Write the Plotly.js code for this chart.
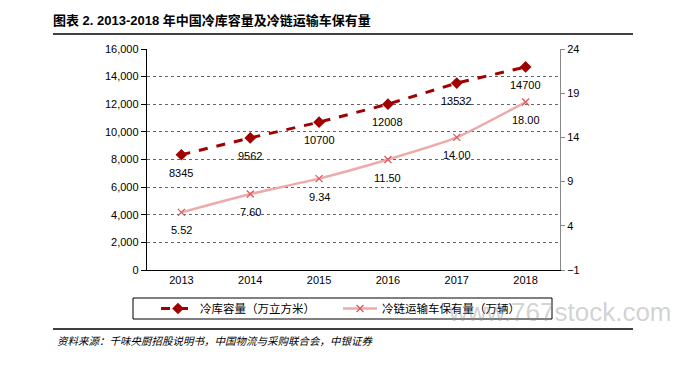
<!DOCTYPE html>
<html><head><meta charset="utf-8">
<script src="https://cdn.plot.ly/plotly-3.0.1.min.js"></script>
<style>html,body{margin:0;padding:0;background:#fff}</style>
</head><body><div id="chart" style="width:677px;height:365px"></div>
<script>
const years = ['2013','2014','2015','2016','2017','2018'];
const coldStorage = [8345, 9562, 10700, 12008, 13532, 14700];
const coldStorageLabels = ['8345','9562','10700','12008','13532','14700'];
const vehicles = [5.52, 7.60, 9.34, 11.50, 14.00, 18.00];
const vehicleLabels = ['5.52','7.60','9.34','11.50','14.00','18.00'];
const seriesNames = ['冷库容量（万立方米）', '冷链运输车保有量（万辆）'];
const titleText = '图表 2. 2013-2018 年中国冷库容量及冷链运输车保有量';
const sourceText = '资料来源：千味央厨招股说明书，中国物流与采购联合会，中银证券';
const watermarkText = 'www.767stock.com';

const F = 'Liberation Sans, Arial, Noto Sans CJK SC, sans-serif';
const L = 147, R = 560, T = 49, B = 270;
const W = R - L, H = B - T;
const px = x => (x - L) / W;
const py = y => (B - y) / H;

const traces = [
  {x: years, y: coldStorage, name: seriesNames[0], type: 'scatter', mode: 'lines+markers',
   line: {color: '#a00000', width: 3, dash: 'dash'},
   marker: {symbol: 'diamond', size: 9, color: '#a00000'}, cliponaxis: false},
  {x: years, y: vehicles, name: seriesNames[1], type: 'scatter', mode: 'lines+markers', yaxis: 'y2',
   line: {color: '#eeaaaa', width: 2.5, shape: 'spline', smoothing: 0.5},
   marker: {symbol: 'x-thin-open', size: 7, color: '#e05a5a', line: {width: 1.3, color: '#e05a5a'}}, cliponaxis: false}
];

const labelAnns = [];
years.forEach((yr, i) => {
  labelAnns.push({x: i, y: coldStorage[i], xref: 'x', yref: 'y', text: coldStorageLabels[i],
    showarrow: false, yshift: -18, font: {family: F, size: 11, color: '#000'}});
  labelAnns.push({x: i, y: vehicles[i], xref: 'x', yref: 'y2', text: vehicleLabels[i],
    showarrow: false, yshift: -18, font: {family: F, size: 11, color: '#000'}});
});

const layout = {
  width: 677, height: 365,
  margin: {l: L, r: 677 - R, t: T, b: 365 - B, pad: 0},
  paper_bgcolor: '#fff', plot_bgcolor: '#fff',
  font: {family: F, size: 11, color: '#000'},
  showlegend: true,
  title: {text: '<b>' + titleText + '</b>', x: 53 / 677, xanchor: 'left', xref: 'container',
          y: 1 - 20 / 365, yanchor: 'middle', yref: 'container',
          font: {family: 'Liberation Sans, Noto Sans CJK SC, sans-serif', size: 13, color: '#000'}},
  xaxis: {type: 'category', categoryarray: years, range: [-0.5, 5.5], showline: true, linecolor: '#000', linewidth: 1, ticks: '', showgrid: false,
          tickfont: {family: F, size: 11}, fixedrange: true},
  yaxis: {range: [0, 16000], dtick: 2000, tickformat: ',', showline: true, linecolor: '#000', linewidth: 1.2,
          ticks: 'outside', ticklen: 5, tickcolor: '#000', showgrid: true, gridcolor: '#666', griddash: 'dot',
          gridwidth: 1, zeroline: false, tickfont: {family: F, size: 11}, fixedrange: true},
  yaxis2: {range: [-1, 24], tick0: -1, dtick: 5, overlaying: 'y', side: 'right', showline: true,
           linecolor: '#888', linewidth: 1, ticks: 'outside', ticklen: 4, tickcolor: '#888', showgrid: false,
           zeroline: false, tickfont: {family: F, size: 11}, fixedrange: true},
  legend: {orientation: 'h', x: px(156), y: py(308.5), xanchor: 'left', yanchor: 'middle',
           borderwidth: 0, bgcolor: 'rgba(0,0,0,0)',
           entrywidth: 133, entrywidthmode: 'pixels', itemwidth: 34,
           font: {family: 'Noto Sans CJK SC, sans-serif', size: 11.5, color: '#000'}},
  shapes: [
    {type: 'line', xref: 'paper', yref: 'paper', x0: px(53), x1: px(633), y0: py(34), y1: py(34),
     line: {color: '#000', width: 1.5}},
    {type: 'line', xref: 'paper', yref: 'paper', x0: px(53), x1: px(633), y0: py(329), y1: py(329),
     line: {color: '#000', width: 1.5}},
    {type: 'rect', xref: 'paper', yref: 'paper', x0: px(133), x1: px(552), y0: py(298), y1: py(319),
     line: {color: '#000', width: 1}, fillcolor: 'rgba(0,0,0,0)'}
  ],
  annotations: labelAnns.concat([
    {text: '<i>' + sourceText + '</i>', xref: 'paper', yref: 'paper', x: px(55), y: py(340),
     xanchor: 'left', yanchor: 'middle', showarrow: false,
     font: {family: 'Noto Sans CJK SC, sans-serif', size: 10.5, color: '#000'}},
    {text: watermarkText, xref: 'paper', yref: 'paper', x: px(674), y: py(312),
     xanchor: 'right', yanchor: 'middle', showarrow: false,
     font: {family: 'Liberation Sans, sans-serif', size: 26, color: 'rgba(140,140,140,0.4)'}}
  ])
};

Plotly.newPlot('chart', traces, layout, {displayModeBar: false, staticPlot: true});
</script></body></html>
